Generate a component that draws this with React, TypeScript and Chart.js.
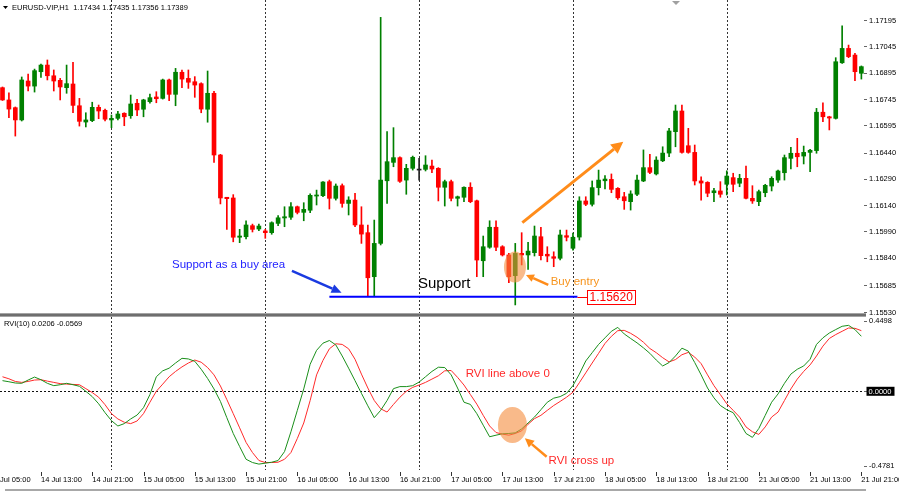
import React, { useEffect, useRef } from "react";
import { Chart, registerables } from "chart.js";

Chart.register(...registerables);

const FONT = "'Liberation Sans', Arial, sans-serif";

// ---------------- data (EURUSD H1 candles) ----------------
const opens = [
  1.16813, 1.16743, 1.16699, 1.16629, 1.16851, 1.16822, 1.16904, 1.16942, 1.16881, 1.16855,
  1.16813, 1.16834, 1.16710, 1.16617, 1.16625, 1.16701, 1.16684, 1.16629, 1.16638, 1.16667,
  1.16653, 1.16724, 1.16690, 1.16733, 1.16760, 1.16752, 1.16857, 1.16775, 1.16901, 1.16866,
  1.16847, 1.16836, 1.16690, 1.16781, 1.16429, 1.16188, 1.16184, 1.15960, 1.15963, 1.16026,
  1.16007, 1.15996, 1.15986, 1.16039, 1.16070, 1.16074, 1.16134, 1.16102, 1.16114, 1.16195,
  1.16197, 1.16277, 1.16182, 1.16254, 1.16153, 1.16172, 1.16030, 1.15986, 1.15735, 1.15925,
  1.16282, 1.16387, 1.16414, 1.16286, 1.16353, 1.16343, 1.16347, 1.16366, 1.16353, 1.16245,
  1.16277, 1.16182, 1.16188, 1.16245, 1.16168, 1.15826, 1.15903, 1.16017, 1.15906, 1.15859,
  1.15741, 1.15868, 1.15859, 1.15872, 1.15963, 1.15863, 1.15849, 1.15840, 1.15969, 1.15897,
  1.15961, 1.16167, 1.16148, 1.16243, 1.16282, 1.16290, 1.16239, 1.16191, 1.16163, 1.16205,
  1.16281, 1.16357, 1.16321, 1.16396, 1.16440, 1.16562, 1.16680, 1.16482, 1.16444, 1.16281,
  1.16273, 1.16214, 1.16224, 1.16262, 1.16300, 1.16268, 1.16296, 1.16182, 1.16163, 1.16214,
  1.16252, 1.16286, 1.16328, 1.16410, 1.16439, 1.16423, 1.16444, 1.16454, 1.16673, 1.16647,
  1.16638, 1.16955, 1.17037, 1.16999, 1.16895,
];
const highs = [
  1.16817, 1.16784, 1.16703, 1.16874, 1.16891, 1.16919, 1.16948, 1.16971, 1.16914, 1.16866,
  1.16942, 1.16958, 1.16752, 1.16670, 1.16730, 1.16714, 1.16691, 1.16657, 1.16678, 1.16670,
  1.16771, 1.16747, 1.16747, 1.16777, 1.16790, 1.16862, 1.16862, 1.16923, 1.16914, 1.16914,
  1.16876, 1.16841, 1.16908, 1.16792, 1.16433, 1.16188, 1.16203, 1.16005, 1.16054, 1.16035,
  1.16035, 1.16005, 1.16048, 1.16083, 1.16134, 1.16157, 1.16138, 1.16157, 1.16207, 1.16229,
  1.16277, 1.16286, 1.16264, 1.16264, 1.16191, 1.16211, 1.16134, 1.16030, 1.16058, 1.17214,
  1.16562, 1.16585, 1.16419, 1.16376, 1.16423, 1.16410, 1.16425, 1.16400, 1.16357, 1.16286,
  1.16286, 1.16195, 1.16248, 1.16271, 1.16172, 1.15967, 1.16054, 1.16054, 1.15912, 1.15868,
  1.15925, 1.15986, 1.15931, 1.16024, 1.16017, 1.15906, 1.15877, 1.16001, 1.16001, 1.15984,
  1.16191, 1.16191, 1.16281, 1.16343, 1.16311, 1.16321, 1.16243, 1.16216, 1.16225, 1.16315,
  1.16458, 1.16433, 1.16419, 1.16476, 1.16581, 1.16714, 1.16714, 1.16581, 1.16486, 1.16305,
  1.16277, 1.16239, 1.16277, 1.16339, 1.16325, 1.16319, 1.16366, 1.16254, 1.16229, 1.16262,
  1.16305, 1.16343, 1.16429, 1.16473, 1.16524, 1.16480, 1.16462, 1.16695, 1.16727, 1.16650,
  1.16984, 1.17165, 1.17056, 1.17009, 1.16937,
];
const lows = [
  1.16740, 1.16642, 1.16537, 1.16623, 1.16794, 1.16788, 1.16872, 1.16857, 1.16794, 1.16743,
  1.16781, 1.16670, 1.16594, 1.16589, 1.16619, 1.16636, 1.16623, 1.16585, 1.16629, 1.16596,
  1.16638, 1.16653, 1.16647, 1.16724, 1.16727, 1.16748, 1.16739, 1.16710, 1.16813, 1.16809,
  1.16758, 1.16670, 1.16616, 1.16387, 1.16150, 1.16005, 1.15934, 1.15929, 1.15950, 1.15990,
  1.15997, 1.15954, 1.15977, 1.16026, 1.16020, 1.16062, 1.16093, 1.16054, 1.16100, 1.16144,
  1.16191, 1.16121, 1.16172, 1.16131, 1.16087, 1.16020, 1.15925, 1.15621, 1.15621, 1.15916,
  1.16153, 1.16362, 1.16273, 1.16205, 1.16343, 1.16286, 1.16338, 1.16328, 1.16167, 1.16138,
  1.16167, 1.16138, 1.16163, 1.16157, 1.15735, 1.15735, 1.15897, 1.15883, 1.15853, 1.15701,
  1.15574, 1.15802, 1.15777, 1.15853, 1.15830, 1.15820, 1.15792, 1.15830, 1.15939, 1.15887,
  1.15944, 1.16140, 1.16138, 1.16201, 1.16235, 1.16214, 1.16176, 1.16119, 1.16115, 1.16197,
  1.16277, 1.16322, 1.16315, 1.16391, 1.16419, 1.16476, 1.16439, 1.16439, 1.16258, 1.16172,
  1.16191, 1.16163, 1.16188, 1.16201, 1.16220, 1.16248, 1.16178, 1.16153, 1.16140, 1.16191,
  1.16224, 1.16273, 1.16286, 1.16349, 1.16362, 1.16378, 1.16334, 1.16439, 1.16619, 1.16572,
  1.16634, 1.16952, 1.16984, 1.16853, 1.16862,
];
const closes = [
  1.16743, 1.16691, 1.16629, 1.16857, 1.16822, 1.16910, 1.16942, 1.16881, 1.16851, 1.16817,
  1.16836, 1.16712, 1.16621, 1.16629, 1.16701, 1.16680, 1.16633, 1.16638, 1.16663, 1.16647,
  1.16720, 1.16686, 1.16743, 1.16756, 1.16750, 1.16857, 1.16775, 1.16901, 1.16862, 1.16844,
  1.16828, 1.16691, 1.16781, 1.16429, 1.16184, 1.16180, 1.15960, 1.15967, 1.16030, 1.16005,
  1.16024, 1.15986, 1.16043, 1.16071, 1.16077, 1.16134, 1.16102, 1.16119, 1.16199, 1.16201,
  1.16275, 1.16182, 1.16252, 1.16153, 1.16172, 1.16030, 1.15978, 1.15729, 1.15925, 1.16286,
  1.16391, 1.16414, 1.16279, 1.16353, 1.16416, 1.16343, 1.16372, 1.16349, 1.16245, 1.16277,
  1.16182, 1.16191, 1.16245, 1.16163, 1.15830, 1.15906, 1.16017, 1.15903, 1.15859, 1.15735,
  1.15868, 1.15859, 1.15881, 1.15967, 1.15855, 1.15853, 1.15840, 1.15973, 1.15960, 1.15960,
  1.16167, 1.16148, 1.16243, 1.16286, 1.16292, 1.16233, 1.16185, 1.16168, 1.16207, 1.16286,
  1.16357, 1.16330, 1.16400, 1.16440, 1.16566, 1.16680, 1.16444, 1.16444, 1.16281, 1.16269,
  1.16211, 1.16225, 1.16205, 1.16309, 1.16262, 1.16296, 1.16182, 1.16167, 1.16220, 1.16256,
  1.16296, 1.16338, 1.16414, 1.16439, 1.16419, 1.16444, 1.16456, 1.16673, 1.16647, 1.16640,
  1.16961, 1.17037, 1.16990, 1.16904, 1.16933,
];

// RVI(10): main line (green) and signal line (red)
const rviMain = [
  0.068, 0.061, 0.053, 0.051, 0.072, 0.091, 0.074, 0.051, 0.036, 0.042,
  0.051, 0.042, 0.032, 0.000, -0.034, -0.080, -0.137, -0.188, -0.222, -0.207,
  -0.177, -0.152, -0.105, -0.021, 0.093, 0.131, 0.148, 0.181, 0.211, 0.207,
  0.192, 0.141, 0.082, 0.015, -0.065, -0.169, -0.270, -0.354, -0.435, -0.456,
  -0.466, -0.460, -0.454, -0.443, -0.386, -0.259, -0.122, 0.015, 0.173, 0.262,
  0.308, 0.325, 0.297, 0.226, 0.148, 0.068, -0.013, -0.093, -0.169, -0.122,
  -0.059, 0.017, 0.030, 0.030, 0.036, 0.059, 0.093, 0.127, 0.154, 0.152,
  0.105, 0.021, -0.070, -0.084, -0.143, -0.217, -0.291, -0.281, -0.272, -0.270,
  -0.266, -0.241, -0.203, -0.165, -0.118, -0.070, -0.044, -0.034, -0.013, 0.036,
  0.110, 0.194, 0.247, 0.300, 0.342, 0.384, 0.409, 0.367, 0.338, 0.310,
  0.278, 0.243, 0.200, 0.162, 0.184, 0.226, 0.276, 0.257, 0.184, 0.105,
  0.021, -0.042, -0.091, -0.118, -0.137, -0.200, -0.270, -0.295, -0.238, -0.154,
  -0.070, -0.017, 0.051, 0.110, 0.141, 0.162, 0.205, 0.300, 0.342, 0.373,
  0.395, 0.416, 0.422, 0.395, 0.352,
];
const rviSignal = [
  0.093, 0.080, 0.063, 0.057, 0.063, 0.072, 0.074, 0.065, 0.057, 0.049,
  0.046, 0.044, 0.042, 0.017, -0.008, -0.038, -0.086, -0.143, -0.177, -0.198,
  -0.207, -0.190, -0.143, -0.070, 0.000, 0.046, 0.093, 0.127, 0.156, 0.181,
  0.200, 0.186, 0.152, 0.105, 0.034, -0.053, -0.143, -0.234, -0.327, -0.392,
  -0.443, -0.456, -0.456, -0.454, -0.435, -0.392, -0.302, -0.203, -0.059, 0.105,
  0.198, 0.272, 0.304, 0.300, 0.272, 0.205, 0.110, 0.021, -0.059, -0.112,
  -0.133, -0.084, -0.038, 0.000, 0.025, 0.040, 0.057, 0.078, 0.099, 0.131,
  0.133, 0.089, 0.040, -0.021, -0.082, -0.154, -0.222, -0.264, -0.274, -0.281,
  -0.270, -0.253, -0.211, -0.175, -0.154, -0.122, -0.091, -0.065, -0.038, -0.006,
  0.055, 0.118, 0.181, 0.243, 0.306, 0.352, 0.388, 0.390, 0.371, 0.346,
  0.314, 0.274, 0.247, 0.215, 0.188, 0.203, 0.234, 0.249, 0.219, 0.177,
  0.105, 0.036, -0.021, -0.080, -0.122, -0.165, -0.228, -0.259, -0.276, -0.228,
  -0.165, -0.133, -0.059, 0.015, 0.078, 0.127, 0.169, 0.226, 0.289, 0.338,
  0.363, 0.384, 0.405, 0.403, 0.388,
];

const priceTicks = [1.17195, 1.17045, 1.16895, 1.16745, 1.16595, 1.1644, 1.1629, 1.1614, 1.1599, 1.1584, 1.15685, 1.1553];
const rviTicks = [0.4498, 0, -0.4781];
const timeTickIndex = [-2, 6, 14, 22, 30, 38, 46, 54, 62, 70, 78, 86, 94, 102, 110, 118, 126, 134];
const timeLabels = [
  "14 Jul 05:00", "14 Jul 13:00", "14 Jul 21:00", "15 Jul 05:00", "15 Jul 13:00", "15 Jul 21:00",
  "16 Jul 05:00", "16 Jul 13:00", "16 Jul 21:00", "17 Jul 05:00", "17 Jul 13:00", "17 Jul 21:00",
  "18 Jul 05:00", "18 Jul 13:00", "18 Jul 21:00", "21 Jul 05:00", "21 Jul 13:00", "21 Jul 21:00",
];
const daySeparators = [17, 41, 65, 89, 113];

const headerText = "EURUSD-VIP,H1  1.17434 1.17435 1.17356 1.17389";
const rviHeader = "RVI(10) 0.0206 -0.0569";

// annotations anchored in data coordinates [candle index, value]
const supportLevel = 1.1562;
const supportSpan = [51, 89.7];
const supportLabelAt = 91.26;
const trendArrow = { from: [81.1, 1.16043], to: [96.85, 1.16505] };
const supportArrow = { from: [45.16, 1.15768], to: [52.9, 1.15644] };
const entryArrow = { from: [85.15, 1.15688], to: [81.67, 1.15745] };
const entryMark = [79.95, 1.1579];
const supportText = [64.82, 1.15669];
const buyAreaText = [26.44, 1.15782];
const entryText = [85.52, 1.15685];
const rviMark = [79.56, -0.2156];
const rviArrow = { from: [84.9, -0.4184], to: [81.5, -0.3007] };
const rviAboveText = [72.26, 0.0883];
const rviCrossText = [85.2, -0.468];

// scale settings
const X_MIN = -0.39;
const X_MAX = 134.41;
const PRICE_MIN = 1.15528;
const PRICE_MAX = 1.17313;
const AXIS_W = 35;

const idx = opens.map((_, i) => i);
const candleColor = (i: number) =>
  closes[i] > opens[i] ? "#008000" : closes[i] < opens[i] ? "#ff0000" : "#222222";

function drawArrow(ctx: CanvasRenderingContext2D, x1: number, y1: number, x2: number, y2: number, color: string, width: number, head: number, headW: number) {
  const ang = Math.atan2(y2 - y1, x2 - x1);
  const bx = x2 - Math.cos(ang) * head;
  const by = y2 - Math.sin(ang) * head;
  ctx.save();
  ctx.strokeStyle = color;
  ctx.fillStyle = color;
  ctx.lineWidth = width;
  ctx.setLineDash([]);
  ctx.beginPath();
  ctx.moveTo(x1, y1);
  ctx.lineTo(bx, by);
  ctx.stroke();
  ctx.beginPath();
  ctx.moveTo(x2, y2);
  ctx.lineTo(bx + Math.sin(ang) * headW, by - Math.cos(ang) * headW);
  ctx.lineTo(bx - Math.sin(ang) * headW, by + Math.cos(ang) * headW);
  ctx.closePath();
  ctx.fill();
  ctx.restore();
}

const topPlugin = {
  id: "topDecor",
  beforeDatasetsDraw(chart: any) {
    const { ctx, chartArea, scales } = chart;
    const xs = scales.x;
    ctx.save();
    ctx.strokeStyle = "#333";
    ctx.lineWidth = 1;
    ctx.setLineDash([2, 2]);
    daySeparators.forEach((d) => {
      const x = Math.round(xs.getPixelForValue(d)) + 0.5;
      ctx.beginPath();
      ctx.moveTo(x, 0);
      ctx.lineTo(x, chartArea.bottom);
      ctx.stroke();
    });
    ctx.restore();
  },
  afterDatasetsDraw(chart: any) {
    const { ctx, scales } = chart;
    const X = (v: number) => scales.x.getPixelForValue(v);
    const Y = (v: number) => scales.y.getPixelForValue(v);
    ctx.save();
    // buy-entry highlight
    ctx.fillStyle = "rgba(245,140,60,0.6)";
    ctx.beginPath();
    ctx.ellipse(X(entryMark[0]), Y(entryMark[1]), 11, 15.5, 0, 0, Math.PI * 2);
    ctx.fill();

    // support price label
    const sy = Math.round(Y(supportLevel)) + 0.5;
    const bx = Math.round(X(supportLabelAt)) + 0.5;
    ctx.strokeStyle = "#ff0000";
    ctx.lineWidth = 1;
    ctx.beginPath();
    ctx.moveTo(X(supportSpan[1]), sy);
    ctx.lineTo(bx, sy);
    ctx.stroke();
    ctx.fillStyle = "#fff";
    ctx.fillRect(bx, sy - 7, 48, 14);
    ctx.strokeRect(bx, sy - 7, 48, 14);
    ctx.fillStyle = "#ff0000";
    ctx.font = `12px ${FONT}`;
    ctx.textBaseline = "middle";
    ctx.textAlign = "left";
    ctx.fillText(supportLevel.toFixed(5), bx + 2, sy + 0.5);

    // arrows
    drawArrow(ctx, X(trendArrow.from[0]), Y(trendArrow.from[1]), X(trendArrow.to[0]), Y(trendArrow.to[1]), "#ff8c1a", 3, 12, 6);
    drawArrow(ctx, X(supportArrow.from[0]), Y(supportArrow.from[1]), X(supportArrow.to[0]), Y(supportArrow.to[1]), "#1a3ae0", 2.5, 10, 4.5);
    drawArrow(ctx, X(entryArrow.from[0]), Y(entryArrow.from[1]), X(entryArrow.to[0]), Y(entryArrow.to[1]), "#ff8c1a", 2.5, 8, 4);

    // texts
    ctx.textBaseline = "alphabetic";
    ctx.font = `15px ${FONT}`;
    ctx.fillStyle = "#000";
    ctx.fillText("Support", X(supportText[0]), Y(supportText[1]));
    ctx.font = `11.5px ${FONT}`;
    ctx.fillStyle = "#2222ff";
    ctx.fillText("Support as a buy area", X(buyAreaText[0]), Y(buyAreaText[1]));
    ctx.fillStyle = "#f7941d";
    ctx.fillText("Buy entry", X(entryText[0]), Y(entryText[1]));

    // header
    ctx.fillStyle = "#000";
    ctx.beginPath();
    ctx.moveTo(3, 6);
    ctx.lineTo(8, 6);
    ctx.lineTo(5.5, 9);
    ctx.closePath();
    ctx.fill();
    ctx.font = `7.5px ${FONT}`;
    ctx.fillText(headerText, 12, 10);
    // chart shift marker
    ctx.fillStyle = "#a0a0a0";
    ctx.beginPath();
    ctx.moveTo(672, 1);
    ctx.lineTo(680, 1);
    ctx.lineTo(676, 5);
    ctx.closePath();
    ctx.fill();
    ctx.restore();
  },
};

const bottomPlugin = {
  id: "bottomDecor",
  beforeDatasetsDraw(chart: any) {
    const { ctx, chartArea, scales } = chart;
    const xs = scales.x;
    const ys = scales.y;
    ctx.save();
    // separator band between windows
    ctx.fillStyle = "#a4a4a4";
    ctx.fillRect(0, 0, chartArea.right + 2, 4);
    ctx.fillStyle = "#6e6e6e";
    ctx.fillRect(0, 1, chartArea.right + 2, 2);
    // bottom frame
    ctx.fillStyle = "#a8a8a8";
    ctx.fillRect(5, 176, chartArea.right - 3, 2);
    // day separators
    ctx.strokeStyle = "#333";
    ctx.lineWidth = 1;
    ctx.setLineDash([2, 2]);
    daySeparators.forEach((d) => {
      const x = Math.round(xs.getPixelForValue(d)) + 0.5;
      ctx.beginPath();
      ctx.moveTo(x, 4);
      ctx.lineTo(x, chartArea.bottom + 4);
      ctx.stroke();
    });
    // zero level
    const zy = Math.round(ys.getPixelForValue(0)) + 0.5;
    ctx.strokeStyle = "#111";
    ctx.beginPath();
    ctx.moveTo(0, zy);
    ctx.lineTo(chartArea.right, zy);
    ctx.stroke();
    ctx.setLineDash([]);
    // time tick marks
    ctx.strokeStyle = "#333";
    timeTickIndex.forEach((t) => {
      const x = Math.round(xs.getPixelForValue(t)) + 0.5;
      ctx.beginPath();
      ctx.moveTo(x, chartArea.bottom + 6);
      ctx.lineTo(x, chartArea.bottom + 10);
      ctx.stroke();
    });
    ctx.restore();
  },
  afterDatasetsDraw(chart: any) {
    const { ctx, chartArea, scales } = chart;
    const X = (v: number) => scales.x.getPixelForValue(v);
    const Y = (v: number) => scales.y.getPixelForValue(v);
    ctx.save();
    ctx.fillStyle = "rgba(245,140,60,0.6)";
    ctx.beginPath();
    ctx.ellipse(X(rviMark[0]), Y(rviMark[1]), 14.5, 18, 0, 0, Math.PI * 2);
    ctx.fill();
    drawArrow(ctx, X(rviArrow.from[0]), Y(rviArrow.from[1]), X(rviArrow.to[0]), Y(rviArrow.to[1]), "#ff8c1a", 2.5, 9, 4.5);
    ctx.font = `11.5px ${FONT}`;
    ctx.fillStyle = "#ff2a2a";
    ctx.textBaseline = "alphabetic";
    ctx.textAlign = "left";
    ctx.fillText("RVI line above 0", X(rviAboveText[0]), Y(rviAboveText[1]));
    ctx.fillText("RVI cross up", X(rviCrossText[0]), Y(rviCrossText[1]));
    ctx.font = `7.5px ${FONT}`;
    ctx.fillStyle = "#000";
    ctx.fillText(rviHeader, 4, 13);
    // zero label box
    const zy = Y(0);
    ctx.fillStyle = "#000";
    ctx.fillRect(chartArea.right + 2.5, zy - 4.5, 28, 9);
    ctx.fillStyle = "#fff";
    ctx.textBaseline = "middle";
    ctx.fillText((0).toFixed(4), chartArea.right + 4.5, zy + 0.5);
    ctx.restore();
  },
};

function topConfig(): any {
  return {
    type: "bar",
    data: {
      datasets: [
        {
          type: "bar",
          label: "wick",
          data: idx.map((i) => ({ x: i, y: [lows[i], highs[i]] })),
          backgroundColor: idx.map(candleColor),
          barThickness: 1,
          grouped: false,
          borderWidth: 0,
          order: 2,
        },
        {
          type: "bar",
          label: "body",
          data: idx.map((i) => ({ x: i, y: [opens[i], closes[i]] })),
          backgroundColor: idx.map(candleColor),
          barThickness: 4,
          grouped: false,
          borderWidth: 0,
          minBarLength: 1,
          order: 1,
        },
        {
          type: "line",
          label: "support",
          data: supportSpan.map((x) => ({ x, y: supportLevel })),
          borderColor: "#0000ff",
          borderWidth: 2,
          pointRadius: 0,
          order: 0,
        },
      ],
    },
    options: {
      responsive: false,
      maintainAspectRatio: false,
      animation: false,
      devicePixelRatio: 1,
      events: [],
      layout: { padding: { left: 0, right: 0, top: 0, bottom: 7 } },
      plugins: { legend: { display: false }, tooltip: { enabled: false } },
      scales: {
        x: { type: "linear", min: X_MIN, max: X_MAX, offset: false, display: false },
        y: {
          type: "linear",
          position: "right",
          min: PRICE_MIN,
          max: PRICE_MAX,
          afterBuildTicks: (s: any) => {
            s.ticks = priceTicks.map((value) => ({ value }));
          },
          afterFit: (s: any) => {
            s.width = AXIS_W;
            s.paddingTop = 0;
            s.paddingBottom = 0;
          },
          ticks: {
            callback: (v: any) => Number(v).toFixed(5),
            font: { family: FONT, size: 7.5 },
            color: "#000",
            padding: 2,
            autoSkip: false,
          },
          grid: { drawOnChartArea: false, drawTicks: true, tickLength: 3, color: "#666" },
          border: { display: false },
        },
      },
    },
    plugins: [topPlugin],
  };
}

function bottomConfig(): any {
  return {
    type: "line",
    data: {
      datasets: [
        {
          label: "RVI",
          data: idx.map((i) => ({ x: i, y: rviMain[i] })),
          borderColor: "#1a8f1a",
          borderWidth: 1,
          pointRadius: 0,
          tension: 0,
        },
        {
          label: "Signal",
          data: idx.map((i) => ({ x: i, y: rviSignal[i] })),
          borderColor: "#ff2a2a",
          borderWidth: 1,
          pointRadius: 0,
          tension: 0,
        },
      ],
    },
    options: {
      responsive: false,
      maintainAspectRatio: false,
      animation: false,
      devicePixelRatio: 1,
      events: [],
      layout: { padding: { left: 0, right: 0, top: 8, bottom: 6 } },
      plugins: { legend: { display: false }, tooltip: { enabled: false } },
      scales: {
        x: {
          type: "linear",
          min: X_MIN,
          max: X_MAX,
          offset: false,
          position: "bottom",
          afterBuildTicks: (s: any) => {
            s.ticks = timeTickIndex.map((value) => ({ value }));
          },
          afterFit: (s: any) => {
            s.height = 20;
            s.paddingLeft = 0;
            s.paddingRight = 0;
          },
          ticks: {
            callback: (_v: any, i: number) => timeLabels[i],
            align: "start",
            autoSkip: false,
            maxRotation: 0,
            minRotation: 0,
            padding: 9,
            font: { family: FONT, size: 7.5 },
            color: "#000",
          },
          grid: { drawOnChartArea: false, drawTicks: false },
          border: { display: false },
        },
        y: {
          type: "linear",
          position: "right",
          min: rviTicks[2],
          max: rviTicks[0],
          afterBuildTicks: (s: any) => {
            s.ticks = rviTicks.map((value) => ({ value }));
          },
          afterFit: (s: any) => {
            s.width = AXIS_W;
            s.paddingTop = 0;
            s.paddingBottom = 0;
          },
          ticks: {
            callback: (v: any) => Number(v).toFixed(4),
            font: { family: FONT, size: 7.5 },
            color: (c: any) => (c.tick && c.tick.value === 0 ? "rgba(0,0,0,0)" : "#000"),
            padding: 2,
            autoSkip: false,
          },
          grid: { drawOnChartArea: false, drawTicks: true, tickLength: 3, color: "#666" },
          border: { display: false },
        },
      },
    },
    plugins: [bottomPlugin],
  };
}

export default function App() {
  const topRef = useRef<HTMLCanvasElement>(null);
  const botRef = useRef<HTMLCanvasElement>(null);
  useEffect(() => {
    Chart.defaults.font.family = FONT;
    const c1 = new Chart(topRef.current as HTMLCanvasElement, topConfig());
    const c2 = new Chart(botRef.current as HTMLCanvasElement, bottomConfig());
    return () => {
      c1.destroy();
      c2.destroy();
    };
  }, []);
  return (
    <div style={{ position: "fixed", left: 0, top: 0, width: 899, height: 492, background: "#fff", overflow: "hidden" }}>
      <canvas ref={topRef} width={899} height={320} style={{ position: "absolute", left: 0, top: 0, width: 899, height: 320 }} />
      <canvas ref={botRef} width={899} height={179} style={{ position: "absolute", left: 0, top: 313, width: 899, height: 179 }} />
    </div>
  );
}
